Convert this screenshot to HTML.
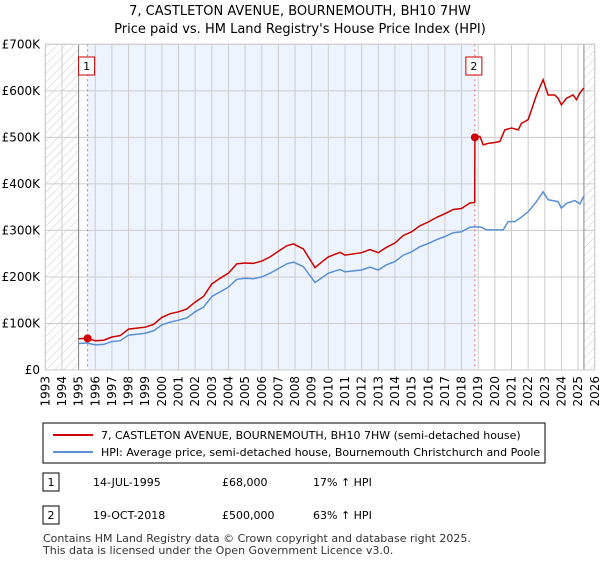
<!DOCTYPE html>
<html><head><meta charset="utf-8"><style>
body{margin:0;background:#fff;font-family:"Liberation Sans","DejaVu Sans",sans-serif;}
svg text{font-family:"DejaVu Sans","Liberation Sans",sans-serif;}
</style></head><body>
<svg id="c" width="600" height="560" xmlns="http://www.w3.org/2000/svg">
<defs><pattern id="h" width="6" height="6" patternUnits="userSpaceOnUse" patternTransform="rotate(45)"><line x1="0" y1="0" x2="0" y2="6" stroke="#ccc" stroke-width="1"/></pattern></defs>
<text x="300" y="15" text-anchor="middle" font-size="13">7, CASTLETON AVENUE, BOURNEMOUTH, BH10 7HW</text>
<text x="300" y="33" text-anchor="middle" font-size="13">Price paid vs. HM Land Registry's House Price Index (HPI)</text>
<g id="grid"></g><g id="series"></g>
<rect x="43" y="423" width="502" height="40" fill="#fff" stroke="#000"/>
<line x1="53" y1="435" x2="93" y2="435" stroke="#cc0000" stroke-width="2"/>
<text x="101" y="439" font-size="11">7, CASTLETON AVENUE, BOURNEMOUTH, BH10 7HW (semi-detached house)</text>
<line x1="53" y1="452" x2="93" y2="452" stroke="#5b8fd4" stroke-width="2"/>
<text x="101" y="456" font-size="11">HPI: Average price, semi-detached house, Bournemouth Christchurch and Poole</text>
<rect x="43" y="473" width="16" height="18" fill="#fff" stroke="#000"/><text x="51" y="486" font-size="11" text-anchor="middle">1</text>
<text x="93" y="486" font-size="11">14-JUL-1995</text>
<text x="222" y="486" font-size="11">£68,000</text>
<text x="313" y="486" font-size="11">17% ↑ HPI</text>
<rect x="43" y="506" width="16" height="18" fill="#fff" stroke="#000"/><text x="51" y="519" font-size="11" text-anchor="middle">2</text>
<text x="93" y="519" font-size="11">19-OCT-2018</text>
<text x="222" y="519" font-size="11">£500,000</text>
<text x="313" y="519" font-size="11">63% ↑ HPI</text>
<text x="43" y="542" font-size="11" fill="#333">Contains HM Land Registry data © Crown copyright and database right 2025.</text>
<text x="43" y="554" font-size="11" fill="#333">This data is licensed under the Open Government Licence v3.0.</text>
</svg>
<script>
const hpiDates=[1995.0,1995.5,1996,1996.5,1997,1997.5,1998,1998.5,1999,1999.5,2000,2000.5,2001,2001.5,2002,2002.5,2003,2003.5,2004,2004.5,2005,2005.5,2006,2006.5,2007,2007.5,2007.9,2008.5,2009.2,2009.6,2010,2010.7,2011,2012,2012.5,2013,2013.5,2014,2014.5,2015,2015.5,2016,2016.5,2017,2017.5,2018,2018.5,2018.8,2019.2,2019.5,2020,2020.5,2020.8,2021.2,2021.5,2022,2022.5,2022.9,2023.2,2023.8,2024,2024.3,2024.8,2025.1,2025.35];
const hpiValues=[57,58,54,55,61,63,75,77,79,84,97,103,107,112,125,135,158,168,178,195,197,196,200,208,218,228,232,222,188,198,208,216,211,215,221,215,226,233,247,254,265,272,280,287,295,297,307,308,307,301,301,301,319,319,326,340,362,383,366,362,348,358,364,357,374];
const redDates=[1995.0,1995.5,1996,1996.5,1997,1997.5,1998,1998.5,1999,1999.5,2000,2000.5,2001,2001.5,2002,2002.5,2003,2003.5,2004,2004.5,2005,2005.5,2006,2006.5,2007,2007.5,2007.9,2008.5,2009.2,2009.6,2010,2010.7,2011,2012,2012.5,2013,2013.5,2014,2014.5,2015,2015.5,2016,2016.5,2017,2017.5,2018,2018.5,2018.79,2018.8,2019.1,2019.3,2019.6,2020,2020.3,2020.6,2021,2021.4,2021.6,2022,2022.2,2022.5,2022.9,2023.2,2023.6,2023.8,2024,2024.3,2024.7,2024.9,2025.1,2025.35];
const redValues=[67,68,63,64,71,74,88,90,92,98,113,121,125,131,146,158,185,197,208,228,230,229,234,243,255,267,271,260,220,232,243,253,247,252,259,252,264,273,289,297,310,318,328,336,345,347,359,360,500,502,484,487,489,491,516,520,516,530,538,559,591,624,591,591,584,570,584,591,581,595,606];
const saleDates=[1995.54,2018.8];
const salePrices=[68,500];
const saleLabels=["1","2"];
const yTicks=[0,100,200,300,400,500,600,700];
const yTickLabels=["£0","£100K","£200K","£300K","£400K","£500K","£600K","£700K"];
const xYears=[];for(let y=1993;y<=2026;y++)xYears.push(y);
const X0=45.3,PX=16.65,Y0=370,PY=0.4653;
const xs=d=>X0+(d-1993)*PX, ys=v=>Y0-v*PY;
const NS="http://www.w3.org/2000/svg";
function mk(p,t,a){const e=document.createElementNS(NS,t);for(const k in a)e.setAttribute(k,a[k]);p.appendChild(e);return e;}
const g=document.getElementById('grid'),s=document.getElementById('series');
const x1=xs(1993),x2=xs(2026),yt=ys(700);
let e=mk(g,'rect',{x:xs(saleDates[0]),y:yt,width:xs(saleDates[1])-xs(saleDates[0]),height:Y0-yt,fill:'#eef4fd'});

e=mk(g,'rect',{x:x1,y:yt,width:xs(1995)-x1,height:Y0-yt,fill:'url(#h)'});

e=mk(g,'rect',{x:xs(2025.35),y:yt,width:x2-xs(2025.35),height:Y0-yt,fill:'url(#h)'});

xYears.forEach(y=>{const l=mk(g,'line',{x1:xs(y),x2:xs(y),y1:yt,y2:Y0,stroke:'#ccc'});

const t=mk(g,'text',{x:0,y:0,'font-size':12,'text-anchor':'end',transform:`translate(${xs(y)+4},${Y0+6}) rotate(-90)`});t.textContent=y;
});
yTicks.forEach((v,i)=>{const l=mk(g,'line',{x1:x1,x2:x2,y1:ys(v),y2:ys(v),stroke:'#ccc'});

const t=mk(g,'text',{x:40,y:ys(v)+4,'font-size':12,'text-anchor':'end'});t.textContent=yTickLabels[i];
});
e=mk(g,'line',{x1:xs(1995),x2:xs(1995),y1:yt,y2:Y0,stroke:'#888'});
e=mk(g,'line',{x1:xs(2025.35),x2:xs(2025.35),y1:yt,y2:Y0,stroke:'#888'});
saleDates.forEach((d,i)=>{const l=mk(g,'line',{x1:xs(d),x2:xs(d),y1:yt,y2:Y0,stroke:'#e66','stroke-dasharray':'2,3'});
});
const pts=(D,V)=>D.map((d,i)=>xs(d).toFixed(1)+','+ys(V[i]).toFixed(1)).join(' ');
e=mk(s,'polyline',{points:pts(hpiDates,hpiValues),fill:'none',stroke:'#5b8fd4','stroke-width':1.5});

e=mk(s,'polyline',{points:pts(redDates,redValues),fill:'none',stroke:'#cc0000','stroke-width':1.5});

saleDates.forEach((d,i)=>{const c=mk(s,'circle',{cx:xs(d),cy:ys(salePrices[i]),r:4,fill:'#cc0000'});

const r=mk(s,'rect',{x:xs(d)-9,y:57,width:16,height:18,fill:'#fff',stroke:'#cc0000'});

const t=mk(s,'text',{x:xs(d)-1,y:70,'font-size':11,'text-anchor':'middle'});t.textContent=saleLabels[i];
});
e=mk(g,'rect',{x:x1,y:yt,width:x2-x1,height:Y0-yt,fill:'none',stroke:'#ccc'});

</script>
</body></html>
